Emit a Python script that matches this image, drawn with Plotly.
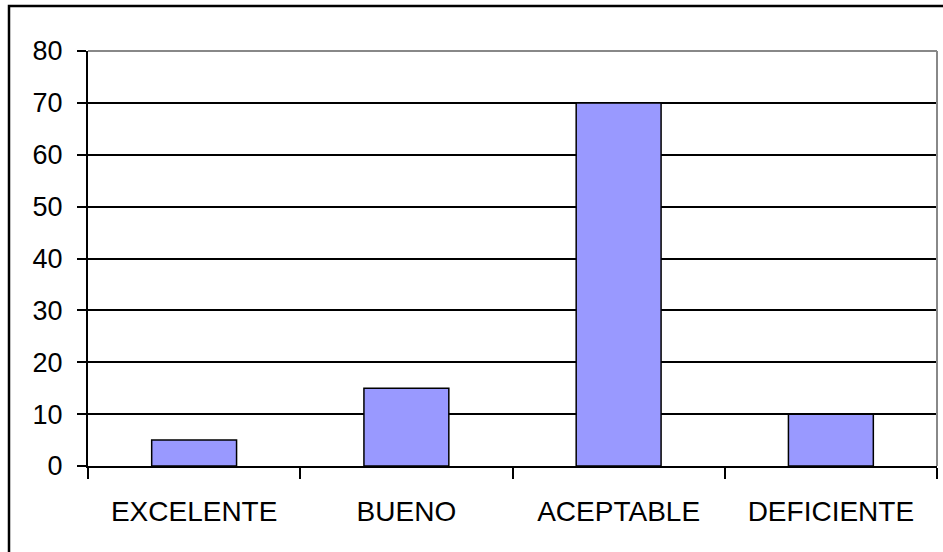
import plotly.graph_objects as go

categories = ["EXCELENTE", "BUENO", "ACEPTABLE", "DEFICIENTE"]
values = [5, 15, 70, 10]
y_ticks = [0, 10, 20, 30, 40, 50, 60, 70, 80]

W, H = 943, 552
plot_left, plot_right = 88, 937
plot_top, plot_bottom = 51, 466

font = dict(family="Liberation Sans, Arial, sans-serif", size=27, color="black")
cat_font = dict(family="Liberation Sans, Arial, sans-serif", size=28, color="black")

fig = go.Figure(
    go.Bar(
        x=categories,
        y=values,
        marker=dict(color="#9999FF", line=dict(color="black", width=1.5)),
    )
)

fig.update_layout(
    width=W,
    height=H,
    margin=dict(l=0, r=0, t=0, b=0, autoexpand=False),
    paper_bgcolor="white",
    plot_bgcolor="white",
    bargap=0.6,
    showlegend=False,
    font=font,
)

fig.update_xaxes(
    domain=[plot_left / W, plot_right / W],
    automargin=False,
    type="category",
    showgrid=False,
    showline=True,
    linecolor="black",
    linewidth=2,
    ticks="outside",
    tickson="boundaries",
    ticklen=11,
    tickwidth=2,
    tickcolor="black",
    ticklabelstandoff=19,
    tickfont=cat_font,
    zeroline=False,
)

fig.update_yaxes(
    domain=[(H - plot_bottom) / H, (H - plot_top) / H],
    automargin=False,
    range=[0, 80],
    tickvals=y_ticks,
    showgrid=True,
    gridcolor="black",
    gridwidth=2,
    showline=True,
    linecolor="black",
    linewidth=2,
    ticks="outside",
    ticklen=9,
    tickwidth=2,
    tickcolor="black",
    ticklabelstandoff=9,
    tickfont=font,
    zeroline=False,
)

# Grey frame along the top and right of the plot area
fig.add_shape(type="line", xref="x domain", yref="y domain",
              x0=0, x1=1, y0=1, y1=1, line=dict(color="#888888", width=2), layer="above")
fig.add_shape(type="line", xref="x domain", yref="y domain",
              x0=1, x1=1, y0=0, y1=1, line=dict(color="#888888", width=2), layer="above")

# Outer chart border (right and bottom edges fall outside the canvas)
fig.add_shape(type="rect", xref="paper", yref="paper",
              x0=9 / W, x1=1.02, y0=-0.02, y1=(H - 6) / H,
              line=dict(color="black", width=2.5), fillcolor="rgba(0,0,0,0)", layer="above")

fig.write_html("out.html")
